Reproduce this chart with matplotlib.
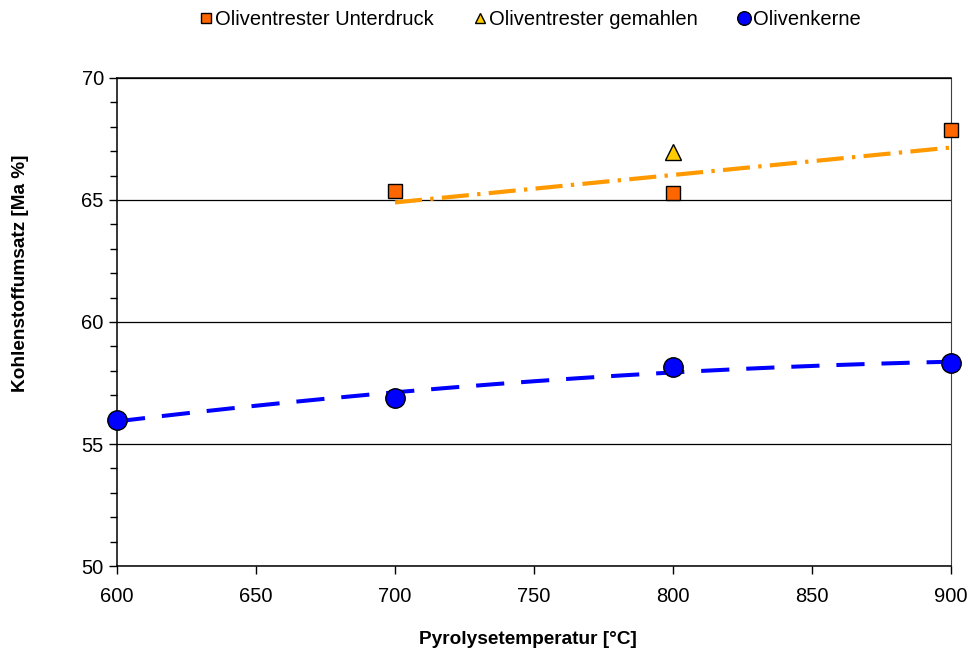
import matplotlib.pyplot as plt
import numpy as np

plt.rcParams["font.family"] = ["Liberation Sans", "DejaVu Sans"]

# Kohlenstoffumsatz je Pyrolysetemperatur
temp_unterdruck = [700, 800, 900]
umsatz_unterdruck = [65.38, 65.28, 67.85]

temp_gemahlen = [800]
umsatz_gemahlen = [66.95]

temp_kerne = [600, 700, 800, 900]
umsatz_kerne = [56.0, 56.9, 58.15, 58.3]

# Trendlinie Oliventrester (Endpunkte)
trend_trester_x = [700, 900]
trend_trester_y = [64.9, 67.15]

fig = plt.figure(figsize=(9.68, 6.53), dpi=100)
ax = fig.add_axes([0.1209, 0.1332, 0.8615, 0.7474])

# Trendlinien
ax.plot(trend_trester_x, trend_trester_y, color="#FF9900", lw=3.0,
        linestyle=(0, (6.5, 2.0, 0.8, 2.0)), zorder=2)
coef = np.polyfit(temp_kerne, umsatz_kerne, 2)
xs = np.linspace(min(temp_kerne), max(temp_kerne), 200)
ax.plot(xs, np.polyval(coef, xs), color="#0000FF", lw=2.9,
        linestyle=(0, (7.0, 4.2)), zorder=2)

# Messpunkte
ax.plot(temp_unterdruck, umsatz_unterdruck, "s", color="#FF6600", mec="black",
        mew=1.0, ms=10.5, label="Oliventrester Unterdruck", zorder=4, clip_on=False)
ax.plot(temp_gemahlen, umsatz_gemahlen, "^", color="#FFCC00", mec="black",
        mew=1.0, ms=11, label="Oliventrester gemahlen", zorder=4, clip_on=False)
ax.plot(temp_kerne, umsatz_kerne, "o", color="#0000FF", mec="black",
        mew=1.0, ms=14, label="Olivenkerne", zorder=4, clip_on=False)

ax.set_xlim(600, 900)
ax.set_ylim(50, 70)
ax.set_xticks(range(600, 901, 50))
ax.set_yticks(range(50, 71, 5))
ax.set_yticks(range(50, 71, 1), minor=True)
ax.yaxis.grid(True, which="major", color="black", lw=0.9)
ax.set_axisbelow(True)
ax.tick_params(axis="both", which="major", direction="out", length=6,
               width=1, labelsize=14.5, colors="black")
ax.tick_params(axis="y", which="minor", direction="out", length=5, width=1)
ax.tick_params(axis="x", pad=9)
for s in ["left", "bottom", "top"]:
    ax.spines[s].set_linewidth(1.1)
ax.spines["right"].set_color("#404040")

ax.set_xlabel("Pyrolysetemperatur [°C]", fontsize=13.7, fontweight="bold")
ax.set_ylabel("Kohlenstoffumsatz [Ma %]", fontsize=13.7, fontweight="bold")
ax.xaxis.set_label_coords(0.493, -0.134)
ax.yaxis.set_label_coords(-0.106, 0.60)

fig.legend(loc="upper center", bbox_to_anchor=(0.548, 1.012), ncol=3, frameon=False,
           fontsize=14.5, handlelength=0.6, handletextpad=0.15, columnspacing=2.0,
           markerscale=0.7)

fig.savefig("out.png", dpi=100)
